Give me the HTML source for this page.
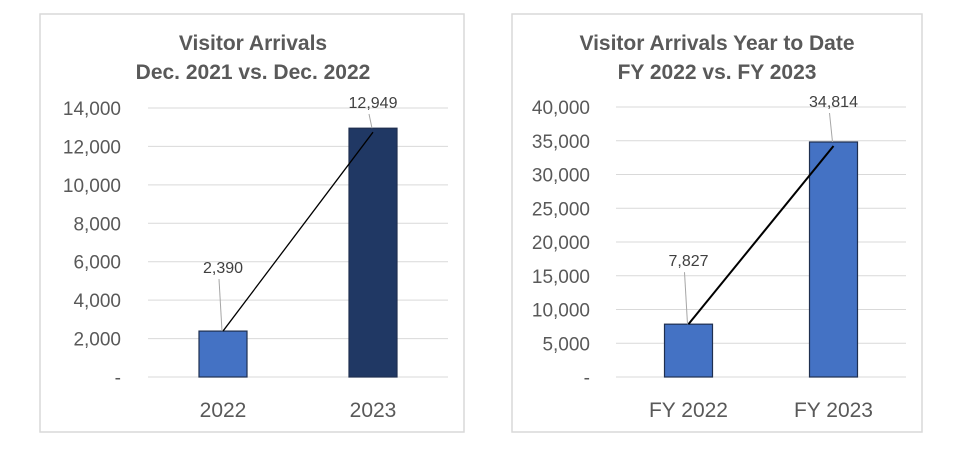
<!DOCTYPE html>
<html><head><meta charset="utf-8"><style>
body{margin:0;background:#fff;width:956px;height:452px;overflow:hidden}
svg{display:block;font-family:"Liberation Sans",sans-serif}
</style></head><body>
<svg width="956" height="452" id="svg"></svg>
<script>
const c1Cats=["2022","2023"];
const c1Vals=[2390,12949];
const c1Ticks=[0,2000,4000,6000,8000,10000,12000,14000];
const c2Cats=["FY 2022","FY 2023"];
const c2Vals=[7827,34814];
const c2Ticks=[0,5000,10000,15000,20000,25000,30000,35000,40000];
const NS="http://www.w3.org/2000/svg";
const svg=document.getElementById('svg');
function el(t,a,p){const e=document.createElementNS(NS,t);for(const k in a)e.setAttribute(k,a[k]);(p||svg).appendChild(e);return e;}
function fmt(v){return v===0?"-":v.toLocaleString('en-US');}
function chart(o){
  const g=el('g',{});
  
  
  const fr=el('rect',{x:o.bx,y:14,width:o.bw,height:418,fill:'#fff',stroke:'#d9d9d9','stroke-width':1.5},g);
  
  
  o.title.forEach((t,i)=>{const tx=el('text',{x:o.tcx,y:50+i*29,'text-anchor':'middle','font-size':21,'font-weight':'bold',fill:'#595959'},g);tx.textContent=t;
    
    });
  const max=o.ticks[o.ticks.length-1];
  const y=v=>o.y0-(v/max)*(o.y0-o.yTop);
  const slot=(o.x1-o.x0)/o.cats.length;
  const xc=i=>o.x0+slot*(i+0.5);
  o.ticks.forEach(t=>{
    const ln=el('line',{x1:o.x0,x2:o.x1,y1:y(t),y2:y(t),stroke:'#d9d9d9','stroke-width':1},g);
    
    
    const tx=el('text',{x:o.tx,y:y(t)+7,'text-anchor':'end','font-size':19,fill:'#595959'},g);tx.textContent=fmt(t);
    
    
  });
  const bw=48;
  const pts=[];
  o.vals.forEach((v,i)=>{
    const r=el('rect',{x:xc(i)-bw/2,y:y(v),width:bw,height:o.y0-y(v),fill:o.colors[i],stroke:'#1f2f4f','stroke-width':1.2},g);
    
    
    pts.push([xc(i),y(v)]);
    const ly=i===0?y(v)-58:Math.min(y(v)-20,o.yTop);
    const ll=el('line',{x1:xc(i)-1,y1:y(v),x2:xc(i)-4,y2:ly+6,stroke:'#a6a6a6','stroke-width':1},g);
    
    
    const lt=el('text',{x:xc(i),y:ly,'text-anchor':'middle','font-size':16,fill:'#404040'},g);lt.textContent=v.toLocaleString('en-US');
    
    
    const xl=el('text',{x:xc(i),y:417,'text-anchor':'middle','font-size':21,fill:'#595959'},g);xl.textContent=o.cats[i];
    
    
  });
  const tl=el('line',{x1:pts[0][0],y1:pts[0][1],x2:pts[1][0],y2:pts[1][1]+4,stroke:'#000','stroke-width':o.lw},g);
  
  
}
chart({name:'chart-december',bx:40,bw:424,tcx:253,title:['Visitor Arrivals','Dec. 2021 vs. Dec. 2022'],x0:148,x1:448,y0:377,yTop:108,tx:121,ticks:c1Ticks,vals:c1Vals,cats:c1Cats,colors:['#4472C4','#203864'],lw:1.3});
chart({name:'chart-year-to-date',bx:512,bw:410,tcx:717,title:['Visitor Arrivals Year to Date','FY 2022 vs. FY 2023'],x0:616,x1:906,y0:377,yTop:107,tx:590,ticks:c2Ticks,vals:c2Vals,cats:c2Cats,colors:['#4472C4','#4472C4'],lw:2});
</script>
</body></html>
